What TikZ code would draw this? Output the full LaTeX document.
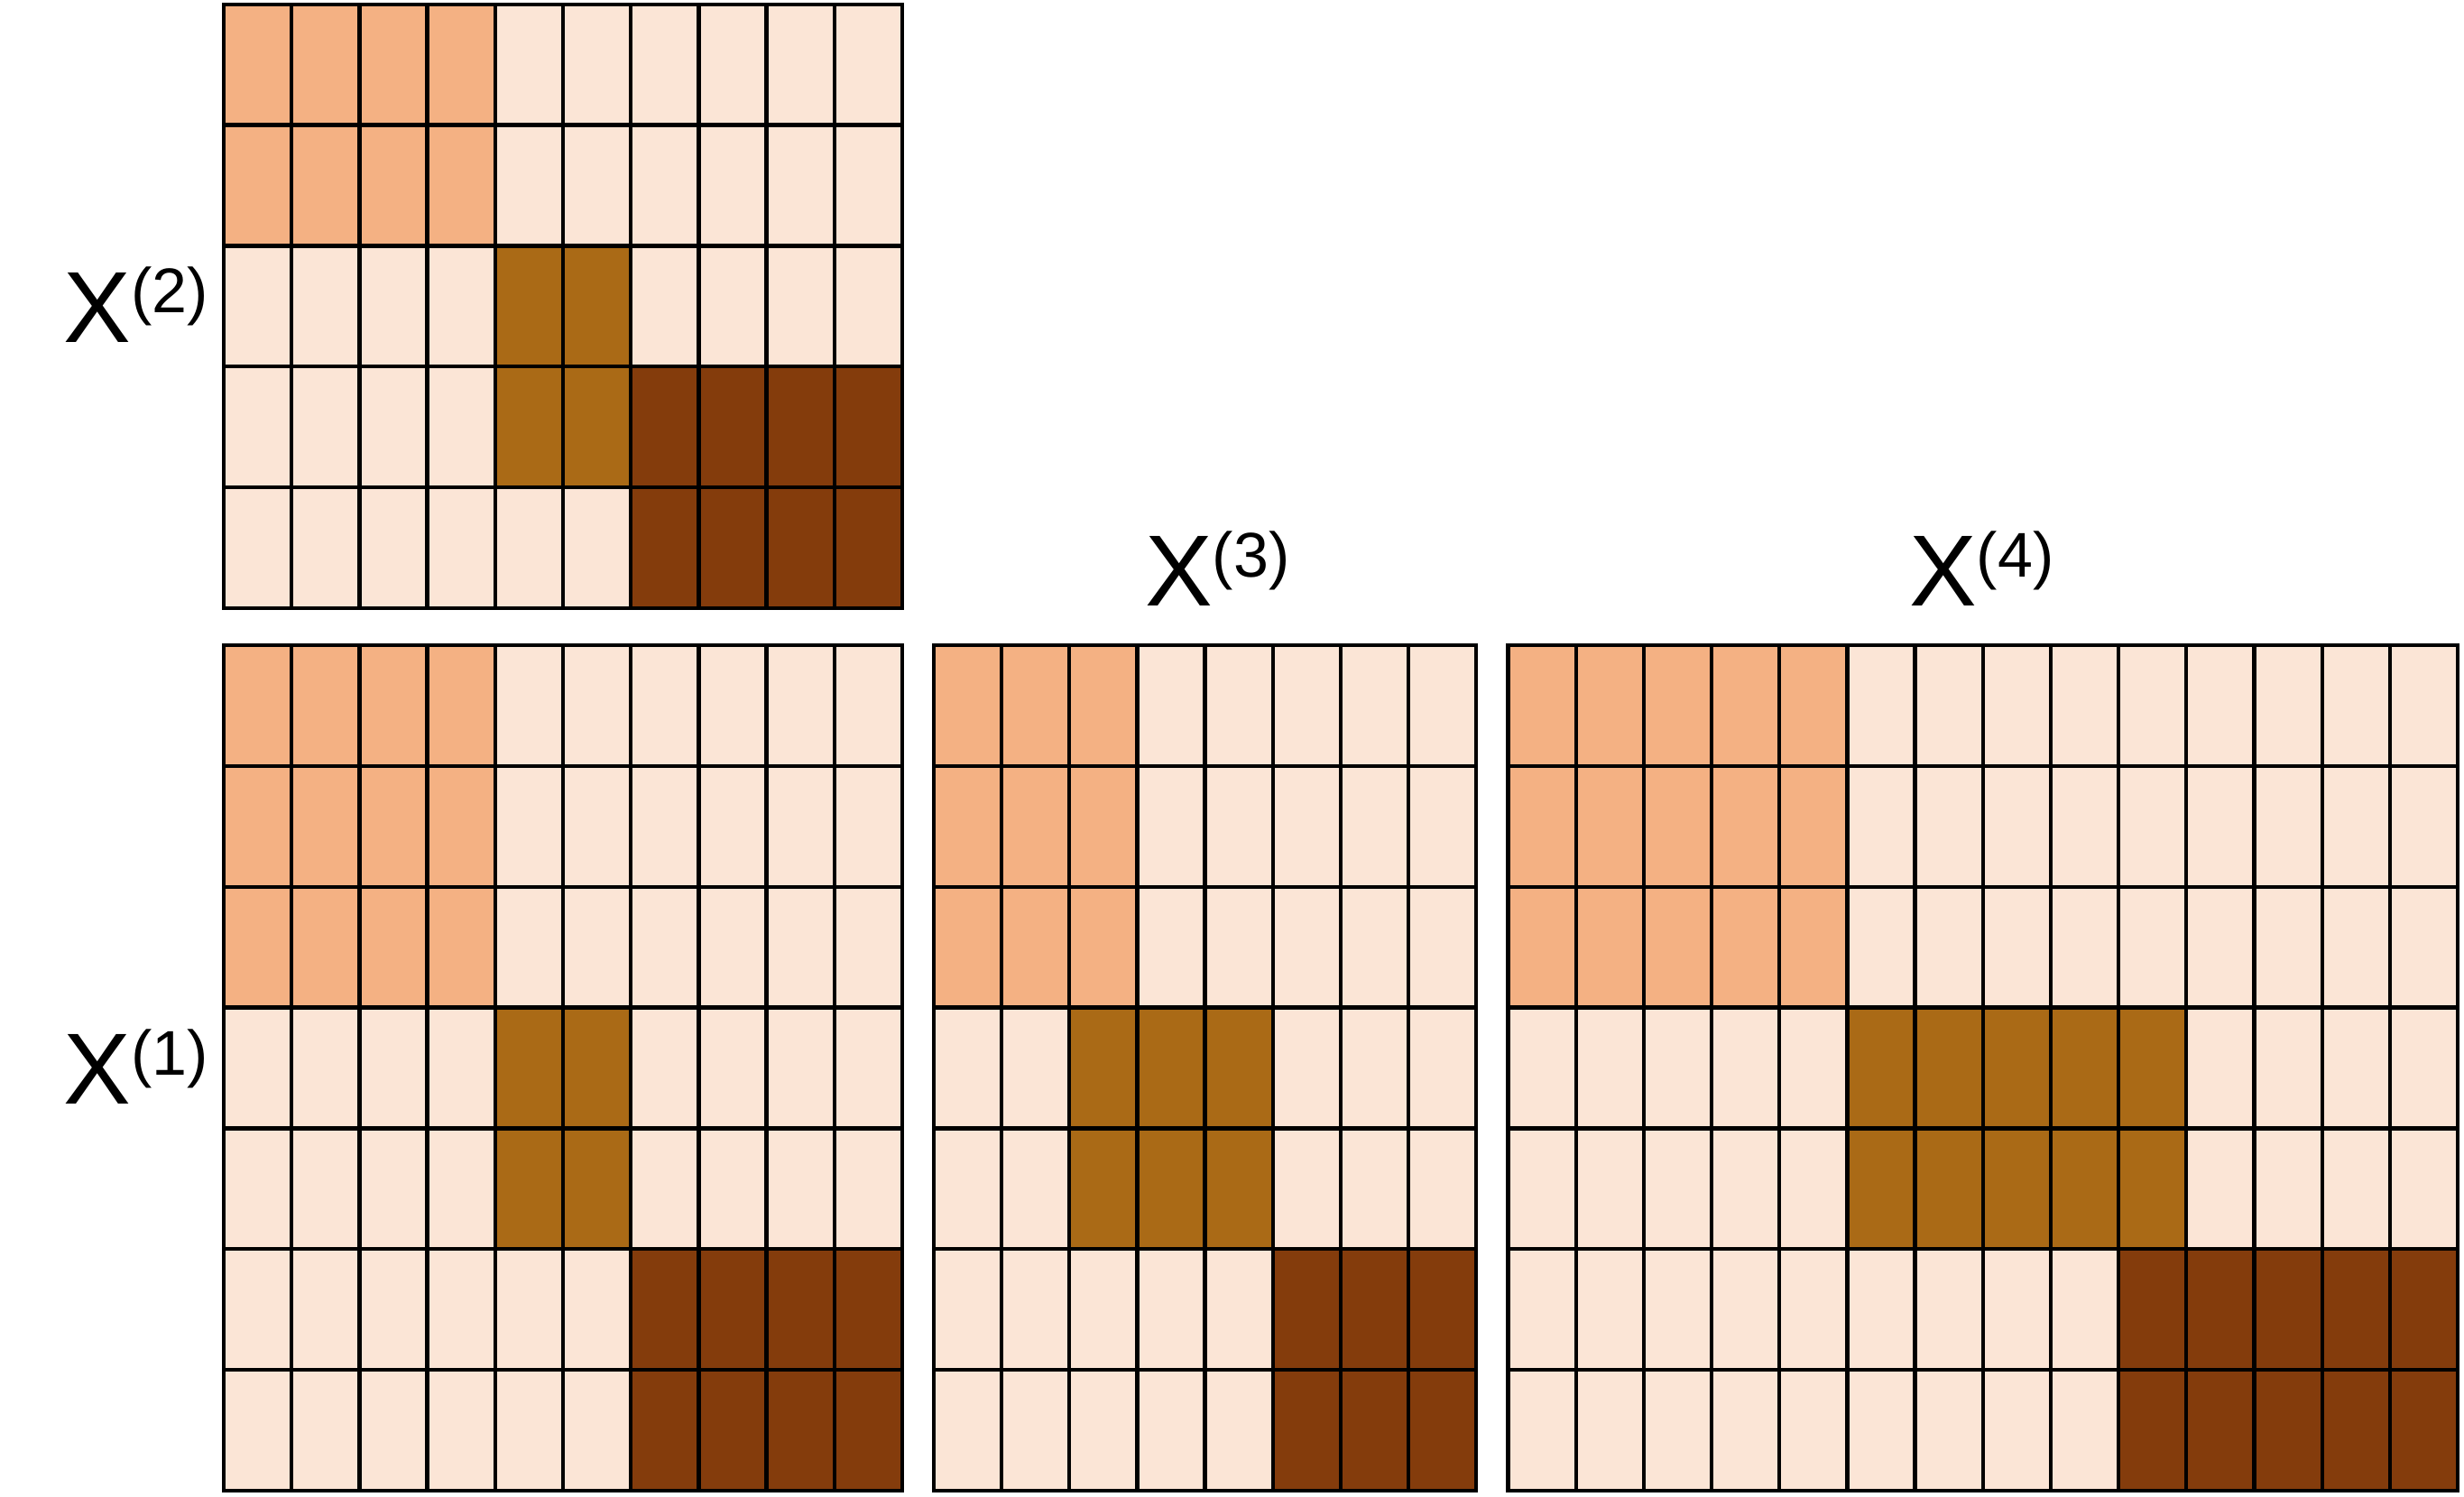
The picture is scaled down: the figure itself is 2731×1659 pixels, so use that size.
\documentclass[tikz,border=0pt]{standalone}
\usepackage{fontspec}
\setmainfont{Liberation Sans}
\definecolor{lightc}{HTML}{FBE5D6}
\definecolor{orangec}{HTML}{F4B183}
\definecolor{goldc}{HTML}{AA6A16}
\definecolor{darkc}{HTML}{843C0C}
\tikzset{
  gl/.style={draw=black, line width=4.3pt},
  matlabel/.style={inner sep=0pt, anchor=base west, font=\fontsize{112}{112}\selectfont},
}
\newcommand{\suplab}[1]{X\raisebox{32.4pt}{\fontsize{70}{70}\selectfont(#1)}}
\begin{document}
\begin{tikzpicture}[x=1pt, y=-1pt]
\useasboundingbox (0,0) rectangle (2731,1659);
% ---------- X(2) ----------
\begin{scope}[shift={(248,4.7)}, x=75.2pt, y=-133.85pt]
  \fill[lightc] (0,0) rectangle (10,5);
  \fill[orangec] (0,0) rectangle (4,2);
  \fill[goldc] (4,2) rectangle (6,4);
  \fill[darkc] (6,3) rectangle (10,5);
  \foreach \i in {1,...,9} \draw[gl] (\i,0) -- (\i,5);
  \foreach \j in {1,...,4} \draw[gl] (0,\j) -- (10,\j);
  \draw[gl] (0,0) rectangle (10,5);
\end{scope}
% ---------- X(1) ----------
\begin{scope}[shift={(248,715)}, x=75.2pt, y=-133.85pt]
  \fill[lightc] (0,0) rectangle (10,7);
  \fill[orangec] (0,0) rectangle (4,3);
  \fill[goldc] (4,3) rectangle (6,5);
  \fill[darkc] (6,5) rectangle (10,7);
  \foreach \i in {1,...,9} \draw[gl] (\i,0) -- (\i,7);
  \foreach \j in {1,...,6} \draw[gl] (0,\j) -- (10,\j);
  \draw[gl] (0,0) rectangle (10,7);
\end{scope}
% ---------- X(3) ----------
\begin{scope}[shift={(1035,715)}, x=75.13pt, y=-133.85pt]
  \fill[lightc] (0,0) rectangle (8,7);
  \fill[orangec] (0,0) rectangle (3,3);
  \fill[goldc] (2,3) rectangle (5,5);
  \fill[darkc] (5,5) rectangle (8,7);
  \foreach \i in {1,...,7} \draw[gl] (\i,0) -- (\i,7);
  \foreach \j in {1,...,6} \draw[gl] (0,\j) -- (8,\j);
  \draw[gl] (0,0) rectangle (8,7);
\end{scope}
% ---------- X(4) ----------
\begin{scope}[shift={(1671.5,715)}, x=75.18pt, y=-133.85pt]
  \fill[lightc] (0,0) rectangle (14,7);
  \fill[orangec] (0,0) rectangle (5,3);
  \fill[goldc] (5,3) rectangle (10,5);
  \fill[darkc] (9,5) rectangle (14,7);
  \foreach \i in {1,...,13} \draw[gl] (\i,0) -- (\i,7);
  \foreach \j in {1,...,6} \draw[gl] (0,\j) -- (14,\j);
  \draw[gl] (0,0) rectangle (14,7);
\end{scope}
% ---------- labels ----------
\node[matlabel] (lab2) at (70.4,379) {\suplab{2}};
\node[matlabel] (lab1) at (70.4,1223.5) {\suplab{1}};
\node[matlabel] (lab3) at (1269,671.7) {\suplab{3}};
\node[matlabel] (lab4) at (2116,671.7) {\suplab{4}};
\end{tikzpicture}
\end{document}
